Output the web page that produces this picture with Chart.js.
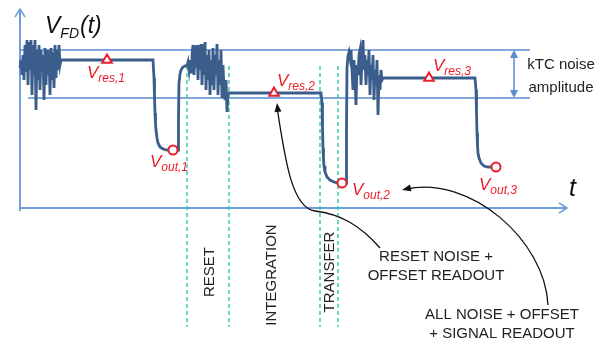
<!DOCTYPE html>
<html lang="en">
<head>
<meta charset="UTF-8">
<title>VFD(t) reset and readout</title>
<style>
  html, body { margin: 0; padding: 0; background: #fff; }
  #wrap { position: relative; width: 607px; height: 345px; }
</style>
</head>
<body>
<div id="wrap"><canvas id="fdChart"></canvas></div>
<script src="https://cdn.jsdelivr.net/npm/chart.js"></script>
<script>
// t and V in arbitrary units, origin where the two axes cross
// noisy reset phases, sampled every 1 unit of t starting at noiseXT0
const noise1T0 = 0;
const noise1 = [140,148,133,153,128,163,136,168,123,166,138,168,113,163,133,168,98,158,128,163,118,158,138,153,108,160,123,158,133,153,113,160,128,156,120,163,130,158,138,163,143,148,148];
const noise2T0 = 167;
const noise2 = [142,146,138,148,136,153,163,133,158,140,163,128,160,138,164,123,158,133,166,118,153,128,158,113,148,123,160,118,153,133,164,113,148,123,158,110,143,118,108,128,96,115];
const noise3T0 = 329;
const noise3 = [156,150,158,138,118,148,128,103,143,133,153,158,123,148,168,138,153,123,148,133,158,113,143,128,153,108,138,123,148,93,133,118,138,128,130];

// flat levels, charge transfer drops and reset edges
const fall1T = [133, 134, 134.5, 135, 135.5, 136, 137, 138, 140, 143, 147, 158];
const fall1V = [148, 130, 110, 95, 85, 78, 70, 65, 61, 59, 58, 58];
const rise1T = [158.5, 159, 160, 161, 163, 165];
const rise1V = [90, 125, 134, 138, 141, 142];
const fall2T = [209, 301, 302, 302.5, 303, 303.5, 304, 305, 307, 310, 314, 318, 326];
const fall2V = [115, 115, 105, 80, 60, 48, 42, 36, 31, 28, 26, 25, 25];
const rise2T = [326.5, 327, 328];
const rise2V = [80, 140, 152];
const fall3T = [364, 455, 456, 456.5, 457, 457.5, 458, 459, 461, 464, 468, 476];
const fall3V = [130, 130, 118, 95, 75, 62, 55, 50, 45, 42, 41, 41];

// sample points
const resLabels = ['res,1', 'res,2', 'res,3'];
const resT = [87, 254, 409];
const resV = [148, 115, 130];
const outLabels = ['out,1', 'out,2', 'out,3'];
const outT = [153, 322, 476];
const outV = [58, 25, 41];

// kTC band and phase boundaries
const bandTop = 158;
const bandBottom = 110;
const bandTopT = [0, 510];
const bandBottomT = [8, 510];
const phaseT = [167, 209, 300, 318];
const phaseV = [142, -119];
const phaseNames = ['RESET', 'INTEGRATION', 'TRANSFER'];

const WAVE = '#3a5d8c';
const AXIS = '#6fa0db';
const BAND = '#5a8cd0';
const GREEN = '#2fc79a';
const RED = '#e8202a';
const FONT = '"Liberation Sans", Arial, sans-serif';

function pts(ts, vs) { return ts.map((t, i) => ({ x: t, y: vs[i] })); }
function noisePts(t0, vs) { return vs.map((v, i) => ({ x: t0 + i, y: v })); }

const wave = [].concat(
    noisePts(noise1T0, noise1), pts(fall1T, fall1V), pts(rise1T, rise1V),
    noisePts(noise2T0, noise2), pts(fall2T, fall2V), pts(rise2T, rise2V),
    noisePts(noise3T0, noise3), pts(fall3T, fall3V)
);

const lineDs = (data, color, width, dash, order) => ({
    data: data, borderColor: color, borderWidth: width, borderDash: dash || [],
    pointRadius: 0, showLine: true, fill: false, tension: 0, order: order
});

const datasets = [
    {
        data: pts(resT, resV), showLine: false, pointStyle: 'triangle', pointRadius: 5.5,
        borderColor: RED, backgroundColor: '#fff', pointBorderWidth: 2, order: 0
    },
    {
        data: pts(outT, outV), showLine: false, pointStyle: 'circle', pointRadius: 4.5,
        borderColor: RED, backgroundColor: '#fff', pointBorderWidth: 2, order: 0
    },
    lineDs(wave, WAVE, 2.8, null, 1),
    lineDs(pts(bandTopT, [bandTop, bandTop]), BAND, 1.5, null, 3),
    lineDs(pts(bandBottomT, [bandBottom, bandBottom]), BAND, 1.5, null, 3)
];
phaseT.forEach(t => datasets.push(lineDs(pts([t, t], phaseV), GREEN, 1.4, [4, 3], 2)));

function arrowHead(ctx, fx, fy, tx, ty, len, half, filled) {
    const a = Math.atan2(ty - fy, tx - fx);
    ctx.beginPath();
    ctx.moveTo(tx - len * Math.cos(a) + half * Math.sin(a), ty - len * Math.sin(a) - half * Math.cos(a));
    ctx.lineTo(tx, ty);
    ctx.lineTo(tx - len * Math.cos(a) - half * Math.sin(a), ty - len * Math.sin(a) + half * Math.cos(a));
    if (filled) { ctx.closePath(); ctx.fill(); } else { ctx.stroke(); }
}

function subLabel(ctx, x, y, main, sub, size, subSize, color) {
    ctx.fillStyle = color;
    ctx.textAlign = 'left';
    ctx.textBaseline = 'alphabetic';
    ctx.font = 'italic ' + size + 'px ' + FONT;
    ctx.fillText(main, x, y);
    const w = ctx.measureText(main).width;
    ctx.font = 'italic ' + subSize + 'px ' + FONT;
    ctx.fillText(sub, x + w, y + subSize * 0.35);
    return x + w + ctx.measureText(sub).width;
}

const decor = {
    id: 'decor',
    beforeDatasetsDraw(chart) {
        const ctx = chart.ctx, sx = chart.scales.x, sy = chart.scales.y;
        const X = v => sx.getPixelForValue(v), Y = v => sy.getPixelForValue(v);
        ctx.save();
        ctx.strokeStyle = AXIS;
        ctx.lineWidth = 2;
        // time axis and voltage axis
        ctx.beginPath();
        ctx.moveTo(X(0), Y(-3)); ctx.lineTo(X(0), Y(199));
        ctx.moveTo(X(0), Y(0)); ctx.lineTo(X(547), Y(0));
        ctx.stroke();
        ctx.lineWidth = 1.5;
        arrowHead(ctx, X(0), Y(150), X(0), Y(199), 8, 5, false);
        arrowHead(ctx, X(400), Y(0), X(547), Y(0), 8, 5, false);
        // kTC noise amplitude arrow
        ctx.strokeStyle = BAND; ctx.fillStyle = BAND; ctx.lineWidth = 1.5;
        ctx.beginPath();
        ctx.moveTo(X(494), Y(bandTop - 6)); ctx.lineTo(X(494), Y(bandBottom + 6));
        ctx.stroke();
        arrowHead(ctx, X(494), Y(130), X(494), Y(bandTop), 8, 4, true);
        arrowHead(ctx, X(494), Y(130), X(494), Y(bandBottom), 8, 4, true);
        ctx.restore();
    },
    afterDatasetsDraw(chart) {
        const ctx = chart.ctx, sx = chart.scales.x, sy = chart.scales.y;
        const X = v => sx.getPixelForValue(v), Y = v => sy.getPixelForValue(v);
        ctx.save();

        // title V_FD(t)
        let x = subLabel(ctx, X(25), Y(175), 'V', 'FD', 23, 14, '#111');
        ctx.font = 'italic 23px ' + FONT;
        ctx.fillText('(t)', x + 1, Y(175));

        // t label
        ctx.font = 'italic 25px ' + FONT;
        ctx.fillText('t', X(549), Y(12));

        // red sample labels
        const resPos = [[67, 130], [257, 122], [413, 137]];
        const outPos = [[130, 41], [332, 13], [459, 18]];
        resLabels.forEach((s, i) => subLabel(ctx, X(resPos[i][0]), Y(resPos[i][1]), 'V', s, 17, 12, RED));
        outLabels.forEach((s, i) => subLabel(ctx, X(outPos[i][0]), Y(outPos[i][1]), 'V', s, 17, 12, RED));

        // black texts
        ctx.fillStyle = '#222';
        ctx.textAlign = 'center';
        ctx.textBaseline = 'middle';
        ctx.font = '15px ' + FONT;
        ctx.fillText('kTC noise', X(541), Y(143));
        ctx.fillText('amplitude', X(541), Y(120));
        ctx.fillText('RESET NOISE +', X(416), Y(-49));
        ctx.fillText('OFFSET READOUT', X(416), Y(-68));
        ctx.fillText('ALL NOISE + OFFSET', X(482), Y(-107));
        ctx.fillText('+ SIGNAL READOUT', X(482), Y(-126));

        // phase names, vertical
        const namePos = [[190, -64], [252, -67], [310, -64]];
        phaseNames.forEach((s, i) => {
            ctx.save();
            ctx.translate(X(namePos[i][0]), Y(namePos[i][1]));
            ctx.rotate(-Math.PI / 2);
            ctx.fillText(s, 0, 0);
            ctx.restore();
        });

        // curved callout arrows
        ctx.strokeStyle = '#111'; ctx.fillStyle = '#111'; ctx.lineWidth = 1.3;
        ctx.beginPath();
        ctx.moveTo(X(360), Y(-40));
        ctx.bezierCurveTo(X(340), Y(-17), X(320), Y(-6), X(295), Y(-3));
        ctx.bezierCurveTo(X(272), Y(0), X(265), Y(48), X(257), Y(101));
        ctx.stroke();
        arrowHead(ctx, X(262), Y(60), X(257), Y(105), 9, 3.5, true);

        ctx.beginPath();
        ctx.moveTo(X(528), Y(-97));
        ctx.bezierCurveTo(X(525), Y(-32), X(450), Y(33), X(386), Y(19));
        ctx.stroke();
        arrowHead(ctx, X(420), Y(27), X(382), Y(18), 9, 3.5, true);

        ctx.restore();
    }
};

new Chart(document.getElementById('fdChart'), {
    type: 'scatter',
    data: { datasets: datasets },
    options: {
        responsive: true,
        maintainAspectRatio: false,
        animation: false,
        layout: { padding: 0, autoPadding: false },
        plugins: { legend: { display: false }, tooltip: { enabled: false } },
        scales: {
            x: { type: 'linear', min: -20, max: 587, display: false },
            y: { type: 'linear', min: -137, max: 208, display: false }
        }
    },
    plugins: [decor]
});
</script>
</body>
</html>
